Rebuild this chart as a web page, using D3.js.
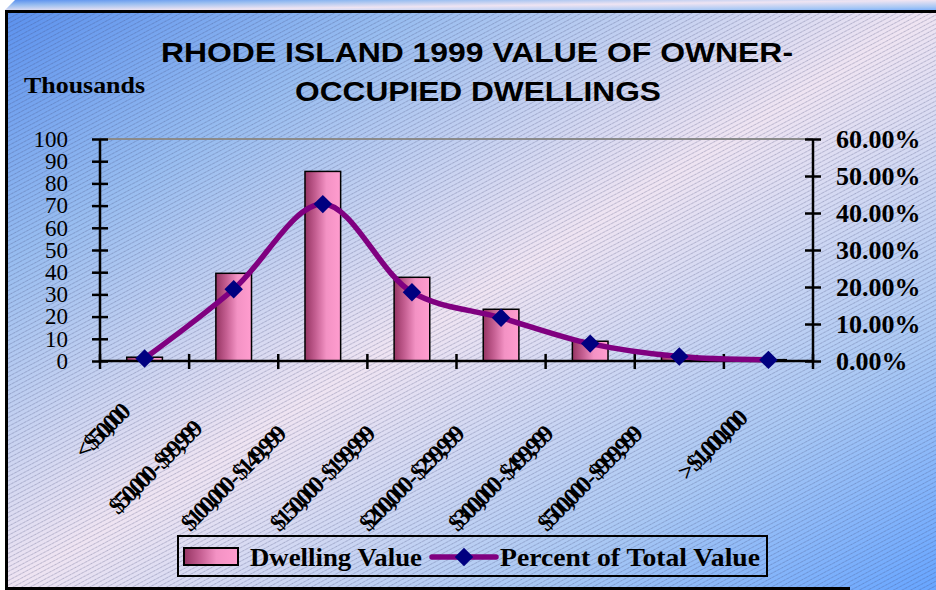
<!DOCTYPE html>
<html>
<head>
<meta charset="utf-8">
<script src="https://cdn.jsdelivr.net/npm/d3@7"></script>
<style>
  html, body { margin: 0; padding: 0; background: #ffffff; }
  svg { display: block; }
</style>
</head>
<body>
<svg id="chart" width="936" height="590"></svg>
<script>
// Owner-occupied dwellings by value band (thousands of dwellings) and share of total
const categories = [
  "< $50,000", "$50,000 - $99,999", "$100,000 - $149,999", "$150,000 - $199,999",
  "$200,000 - $299,999", "$300,000 - $499,999", "$500,000 - $999,999", "> $1,000,000"
];
const dwellingValue = [1.7, 39.5, 85.4, 37.7, 23.3, 8.9, 2.4, 0.6];      // thousands
const percentOfTotal = [0.7, 19.4, 42.4, 18.6, 11.7, 4.7, 1.2, 0.3];     // percent
const leftTicks = [0, 10, 20, 30, 40, 50, 60, 70, 80, 90, 100];
const rightTicks = [0, 10, 20, 30, 40, 50, 60];
const titleLines = ["RHODE ISLAND 1999 VALUE OF OWNER-", "OCCUPIED DWELLINGS"];
const unitLabel = "Thousands";
const seriesNames = ["Dwelling Value", "Percent of Total Value"];

const W = 936, H = 590;
const plot = { left: 100, right: 813, top: 139, bottom: 361 };
const serif = "'Liberation Serif', 'Times New Roman', Times, serif";
const sans = "'Liberation Sans', Arial, Helvetica, sans-serif";

const svg = d3.select("#chart");
const defs = svg.append("defs");

// Background: blue corners fading to a pale pink band along the anti-diagonal
const bg = defs.append("linearGradient").attr("id", "bgGrad")
  .attr("x1", 0).attr("y1", 0).attr("x2", 1).attr("y2", 1);
[[0, "#5b91ee"], [0.22, "#98bdf0"], [0.5, "#efe4f2"], [0.78, "#a9c8f4"], [1, "#67a5ff"]]
  .forEach(([o, c]) => bg.append("stop").attr("offset", o).attr("stop-color", c));

// Fine diagonal hatching over the panel
const hatch = defs.append("pattern").attr("id", "hatch")
  .attr("patternUnits", "userSpaceOnUse").attr("width", 4).attr("height", 4)
  .attr("patternTransform", "rotate(-28)");
hatch.append("line").attr("x1", 0).attr("y1", 0.5).attr("x2", 4).attr("y2", 0.5)
  .attr("stroke", "#3c4470").attr("stroke-opacity", 0.3).attr("stroke-width", 1)
  .attr("stroke-dasharray", "1.5,0.8");

// Bar fill: dark rose on the left to pink on the right
const barGrad = defs.append("linearGradient").attr("id", "barGrad")
  .attr("x1", 0).attr("y1", 0).attr("x2", 1).attr("y2", 0);
[[0, "#953462"], [0.3, "#c55f92"], [0.6, "#f392c4"], [1, "#ff9dcf"]]
  .forEach(([o, c]) => barGrad.append("stop").attr("offset", o).attr("stop-color", c));

// Back panel (bevelled strip along the top) and front panel
svg.append("path")
  .attr("d", `M5,10 L15,0 L${W},0 L${W},12 L5,12 Z`)
  .attr("fill", "url(#bgGrad)");
svg.append("rect").attr("x", 5).attr("y", 10).attr("width", W - 5).attr("height", H - 10)
  .attr("fill", "url(#bgGrad)");
svg.append("rect").attr("x", 5).attr("y", 10).attr("width", W - 5).attr("height", H - 10)
  .attr("fill", "url(#hatch)");
svg.append("path")
  .attr("d", `M${W},11.5 L6.5,11.5 L6.5,588.5 L850,588.5`)
  .attr("fill", "none").attr("stroke", "#000").attr("stroke-width", 3);

// Scales
const x = d3.scaleBand().domain(categories)
  .range([plot.left, plot.right]).paddingInner(0.6).paddingOuter(0.3);
const yLeft = d3.scaleLinear().domain([0, 100]).range([plot.bottom, plot.top]);
const yRight = d3.scaleLinear().domain([0, 60]).range([plot.bottom, plot.top]);
const step = x.step();
const cx = c => x(c) + x.bandwidth() / 2;

// Title
const title = svg.append("g").attr("font-family", sans).attr("font-weight", "bold")
  .attr("font-size", 28).attr("fill", "#000").attr("text-anchor", "middle");
title.append("text").attr("x", 477).attr("y", 62).text(titleLines[0])
  .attr("textLength", 632).attr("lengthAdjust", "spacingAndGlyphs");
title.append("text").attr("x", 478).attr("y", 101).text(titleLines[1])
  .attr("textLength", 366).attr("lengthAdjust", "spacingAndGlyphs");

svg.append("text").attr("x", 24).attr("y", 93)
  .attr("font-family", serif).attr("font-weight", "bold").attr("font-size", 24)
  .attr("textLength", 121).attr("lengthAdjust", "spacingAndGlyphs")
  .text(unitLabel);

// Top border of the plot area
svg.append("line").attr("x1", plot.left).attr("x2", plot.right)
  .attr("y1", plot.top).attr("y2", plot.top)
  .attr("stroke", "#8a8a8a").attr("stroke-width", 2);

// Bars
svg.append("g").selectAll("rect").data(categories).join("rect")
  .attr("x", d => x(d))
  .attr("width", x.bandwidth())
  .attr("y", (d, i) => yLeft(dwellingValue[i]))
  .attr("height", (d, i) => yLeft(0) - yLeft(dwellingValue[i]))
  .attr("fill", "url(#barGrad)")
  .attr("stroke", "#000").attr("stroke-width", 1.5);

// Left axis
const gLeft = svg.append("g").attr("transform", `translate(${plot.left},0)`)
  .call(d3.axisLeft(yLeft).tickValues(leftTicks).tickSize(8).tickPadding(24).tickFormat(d3.format("d")));
gLeft.select(".domain").attr("d", `M0,${plot.bottom}V${plot.top}`).attr("stroke-width", 2.5);
gLeft.selectAll(".tick line").attr("x1", 8).attr("x2", -8).attr("stroke-width", 2.5);
gLeft.selectAll(".tick text").attr("font-family", serif).attr("font-size", 23).attr("fill", "#000");

// Right axis
const gRight = svg.append("g").attr("transform", `translate(${plot.right},0)`)
  .call(d3.axisRight(yRight).tickValues(rightTicks).tickSize(8).tickPadding(15)
    .tickFormat(d => d.toFixed(2) + "%"));
gRight.select(".domain").attr("d", `M0,${plot.bottom}V${plot.top}`).attr("stroke-width", 2.5);
gRight.selectAll(".tick line").attr("x1", -8).attr("x2", 8).attr("stroke-width", 2.5);
gRight.selectAll(".tick text").attr("font-family", serif).attr("font-weight", "bold")
  .attr("font-size", 26).attr("fill", "#000");

// Category axis with ticks on the band boundaries
const boundaries = d3.range(categories.length + 1).map(i => plot.left + i * step);
svg.append("line").attr("x1", plot.left).attr("x2", plot.right)
  .attr("y1", plot.bottom).attr("y2", plot.bottom)
  .attr("stroke", "#000").attr("stroke-width", 2.5);
svg.append("g").selectAll("line").data(boundaries).join("line")
  .attr("x1", d => d).attr("x2", d => d)
  .attr("y1", plot.bottom - 7).attr("y2", plot.bottom + 8)
  .attr("stroke", "#000").attr("stroke-width", 2.5);

// Rotated, tightly packed category labels (end of the text sits under the band centre)
const labels = svg.append("g").selectAll("g").data(categories).join("g")
  .attr("transform", d => `translate(${cx(d) + 9},${plot.bottom + 30}) rotate(-45)`);
labels.append("text")
  .attr("font-family", serif).attr("font-weight", "bold").attr("font-size", 24)
  .attr("fill", "#000")
  .text(d => d)
  .each(function () {
    const t = d3.select(this);
    const full = this.getComputedTextLength();
    t.attr("x", -full).attr("y", 0)
      .attr("textLength", full * 0.69).attr("lengthAdjust", "spacing");
  });

// Percent line (smoothed) with diamond markers
const line = d3.line()
  .x((d, i) => cx(categories[i]))
  .y(d => yRight(d))
  .curve(d3.curveCatmullRom.alpha(0.5));
svg.append("path").datum(percentOfTotal)
  .attr("d", line)
  .attr("fill", "none").attr("stroke", "#800080").attr("stroke-width", 5.5)
  .attr("stroke-linejoin", "round").attr("stroke-linecap", "round");

const diamond = d3.symbol().type(d3.symbolSquare).size(170);
svg.append("g").selectAll("path").data(percentOfTotal).join("path")
  .attr("d", diamond)
  .attr("transform", (d, i) => `translate(${cx(categories[i])},${yRight(d)}) rotate(45)`)
  .attr("fill", "#000080");

// Legend
const lg = svg.append("g");
lg.append("rect").attr("x", 178).attr("y", 536).attr("width", 589).attr("height", 40)
  .attr("fill", "none").attr("stroke", "#000").attr("stroke-width", 2);
lg.append("rect").attr("x", 184).attr("y", 548).attr("width", 54).attr("height", 17)
  .attr("fill", "url(#barGrad)").attr("stroke", "#000").attr("stroke-width", 2);
lg.append("text").attr("x", 250).attr("y", 566)
  .attr("font-family", serif).attr("font-weight", "bold").attr("font-size", 25)
  .attr("textLength", 172).attr("lengthAdjust", "spacingAndGlyphs")
  .text(seriesNames[0]);
lg.append("line").attr("x1", 432).attr("x2", 496).attr("y1", 557).attr("y2", 557)
  .attr("stroke", "#800080").attr("stroke-width", 5.5).attr("stroke-linecap", "round");
lg.append("path").attr("d", diamond)
  .attr("transform", "translate(464,557) rotate(45)").attr("fill", "#000080");
lg.append("text").attr("x", 500).attr("y", 566)
  .attr("font-family", serif).attr("font-weight", "bold").attr("font-size", 25)
  .attr("textLength", 260).attr("lengthAdjust", "spacingAndGlyphs")
  .text(seriesNames[1]);
</script>
</body>
</html>
